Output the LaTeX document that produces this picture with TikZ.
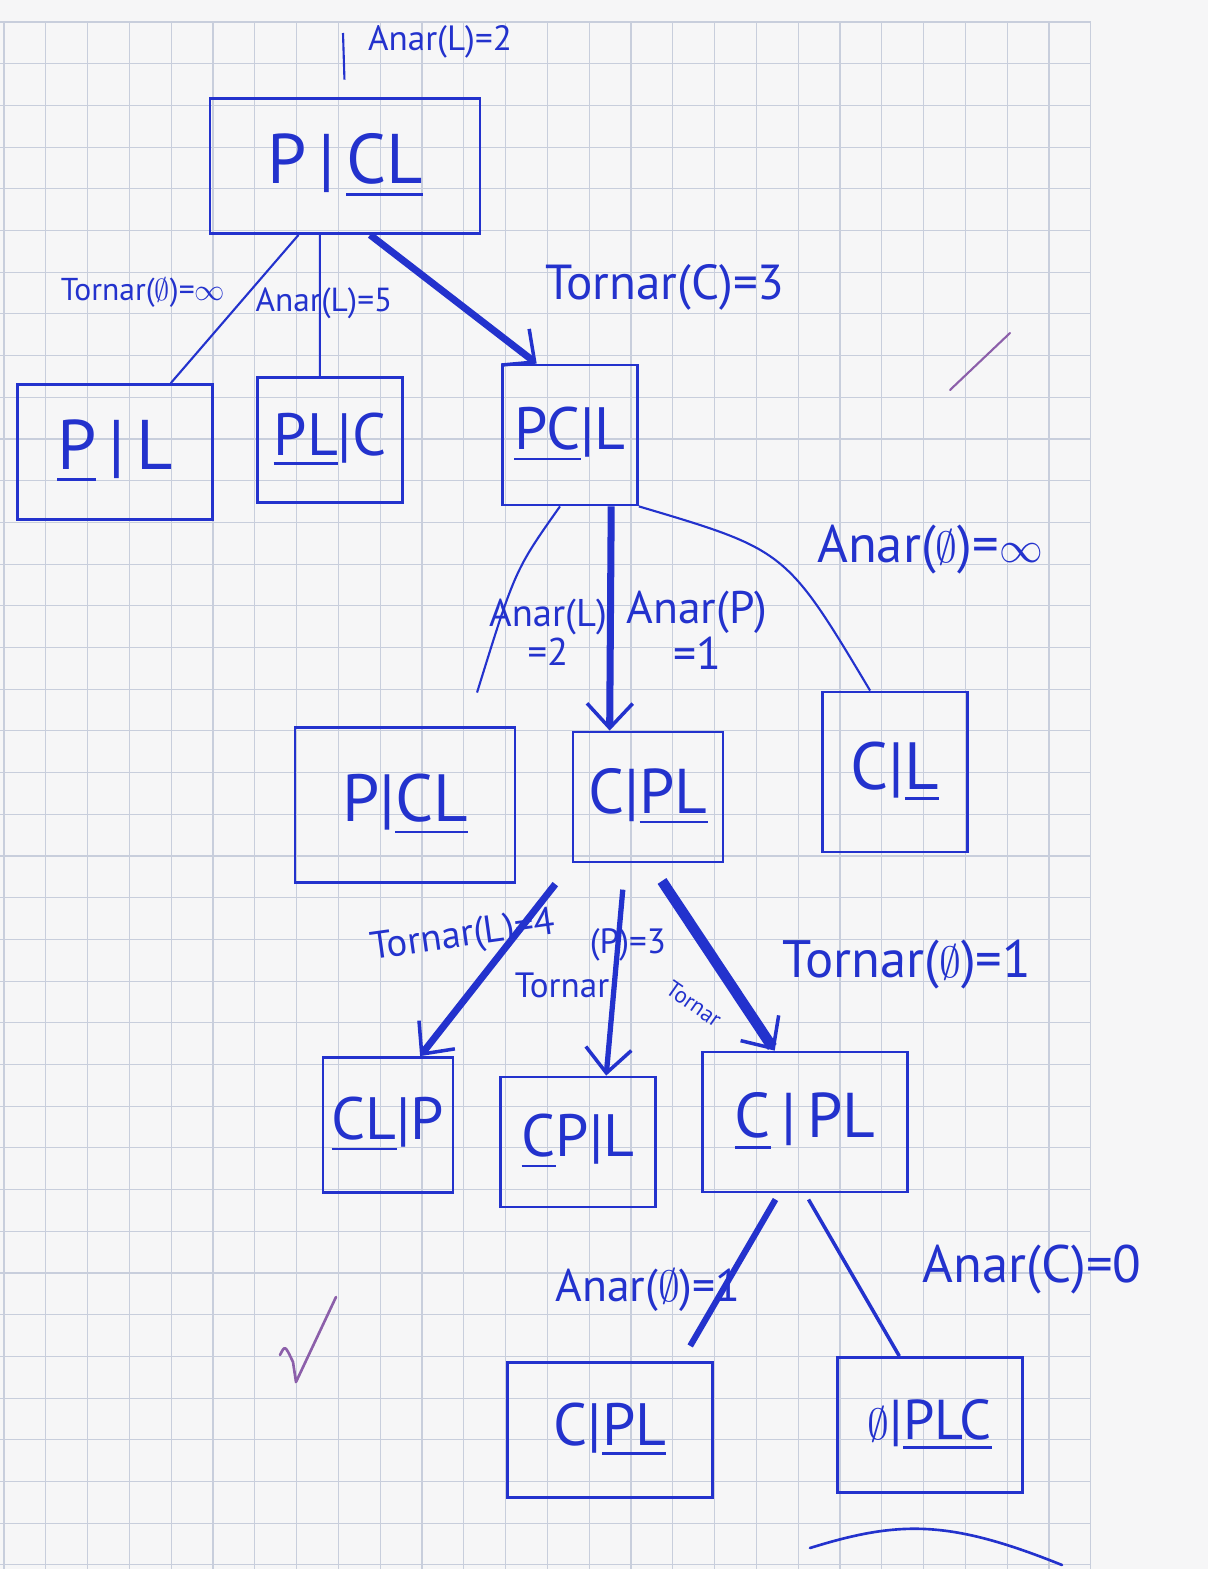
\documentclass[tikz,border=0pt]{standalone}
\usepackage{amssymb}
\usepackage{fontspec}
\setmainfont{PT Sans}
\usetikzlibrary{arrows.meta}

\definecolor{tinta}{RGB}{35,50,205}
\definecolor{graella}{RGB}{200,206,220}
\definecolor{paper}{RGB}{246,246,247}
\definecolor{lila}{RGB}{140,95,170}

\begin{document}
\begin{tikzpicture}[x=0.02cm, y=-0.02cm,
  mida/.style={font=\fontsize{#1}{#1}\selectfont},
  estat/.style={draw=tinta, line width=1.6pt, inner sep=0pt, text=tinta},
  etiq/.style={text=tinta, inner sep=0pt, align=center},
  fi/.style={draw=tinta, line width=1.2pt},
  gruix/.style={draw=tinta, line width=4pt, -{Straight Barb[length=14pt, width=26pt, line width=2pt]}}]
\useasboundingbox (0,0) rectangle (1208,1569);
\fill[paper] (0,0) rectangle (1208,1569);

% paper grid
\foreach \i in {0,...,26}
  \draw[graella, line width=0.6pt] ({4+41.8*\i},22) -- ({4+41.8*\i},1569);
\foreach \j in {0,...,37}
  \draw[graella, line width=0.6pt] (0,{22+41.7*\j}) -- (1091,{22+41.7*\j});

% states
\node[estat, mida=40, minimum width=5.4cm, minimum height=2.7cm] (arrel) at (345,166) {P\,|\,\underline{CL}};
\node[estat, mida=40, minimum width=3.9cm, minimum height=2.7cm] (n1) at (115,452) {\underline{P}\,|\,L};
\node[estat, mida=34, minimum width=2.9cm, minimum height=2.5cm] (n2) at (330,440) {\underline{PL}|C};
\node[estat, mida=34, minimum width=2.7cm, minimum height=2.8cm] (n3) at (570,435) {\underline{PC}|L};
\node[estat, mida=38, minimum width=4.4cm, minimum height=3.1cm] (n4) at (405,805) {P|\underline{CL}};
\node[estat, mida=36, minimum width=3.0cm, minimum height=2.6cm] (n5) at (648,797) {C|\underline{PL}};
\node[estat, mida=38, minimum width=2.9cm, minimum height=3.2cm] (n6) at (895,772) {C|\underline{L}};
\node[estat, mida=34, minimum width=2.6cm, minimum height=2.7cm] (n7) at (388,1125) {\underline{CL}|P};
\node[estat, mida=34, minimum width=3.1cm, minimum height=2.6cm] (n8) at (578,1142) {\underline{C}P|L};
\node[estat, mida=36, minimum width=4.1cm, minimum height=2.8cm] (n9) at (805,1122) {\underline{C}\,|\,PL};
\node[estat, mida=34, minimum width=4.1cm, minimum height=2.7cm] (n10) at (610,1430) {C|\underline{PL}};
\node[estat, mida=32, minimum width=3.7cm, minimum height=2.7cm] (n11) at (930,1425) {$\emptyset$|\underline{PLC}};

% labels
\node[etiq, mida=20] (aL2) at (440,42) {Anar(L)=2};
\node[etiq, mida=18] (tBi) at (143,293) {Tornar($\emptyset$)=$\infty$};
\node[etiq, mida=19] (aL5) at (324,303) {Anar(L)=5};
\node[etiq, mida=28] (tC3) at (665,287) {Tornar(C)=3};
\node[etiq, mida=22] (aL2b) at (548,632) {Anar(L)\\=2};
\node[etiq, mida=26] (aP1) at (697,630) {Anar(P)\\=1};
\node[etiq, mida=30] (aBi) at (930,550) {Anar($\emptyset$)=$\infty$};
\node[etiq, mida=22, rotate=8] (tL4) at (463,937) {Tornar(L)=4};
\node[etiq, mida=20] (tP) at (562,985) {Tornar};
\node[etiq, mida=20] (tP3) at (628,945) {(P)=3};
\node[etiq, mida=13, rotate=-35] (tx) at (694,1004) {Tornar};
\node[etiq, mida=30] (tB1) at (907,965) {Tornar($\emptyset$)=1};
\node[etiq, mida=26] (aB1) at (648,1290) {Anar($\emptyset$)=1};
\node[etiq, mida=30] (aC0) at (1032,1270) {Anar(C)=0};

% moves
\coordinate (inici) at (343,33);
\draw[fi, shorten >=10pt] (inici) -- (arrel.north);
\draw[fi] (arrel.-124) -- (n1.51);
\draw[fi] (arrel.-110) -- (n2.99);
\draw[gruix] (arrel.-70) -- (n3.115);
\draw[fi, shorten >=20pt] (n3.-98) .. controls (515,570) .. (n4.52);
\draw[gruix] (n3.-60) -- (n5.120);
\draw[fi] (n3.south east) .. controls (786,550) .. (n6.107);
\draw[gruix, shorten <=15pt] (n5.south west) -- (n7.65);
\draw[gruix, line width=3pt, shorten <=15pt] (n5.-109) -- (n8.67);
\draw[gruix, line width=6pt, shorten <=12pt] (n5.-88) -- (n9.113);
\draw[fi, line width=3.5pt, shorten <=4pt, shorten >=10pt] (n9.-110) -- (n10.44);
\draw[fi, line width=2pt, shorten <=4pt] (n9.south) -- (n11.114);

% ticks and the closing stroke
\draw[lila, line width=1.2pt, line cap=round] (950,390) -- (1010,333);
\draw[lila, line width=1.5pt, line cap=round, line join=round] (280,1355) .. controls (285,1345) .. (293,1362) -- (296,1382) -- (336,1297);
\draw[tinta, line width=1.5pt, line cap=round] (810,1548) .. controls (900,1520) and (950,1520) .. (1062,1565);
\end{tikzpicture}
\end{document}
